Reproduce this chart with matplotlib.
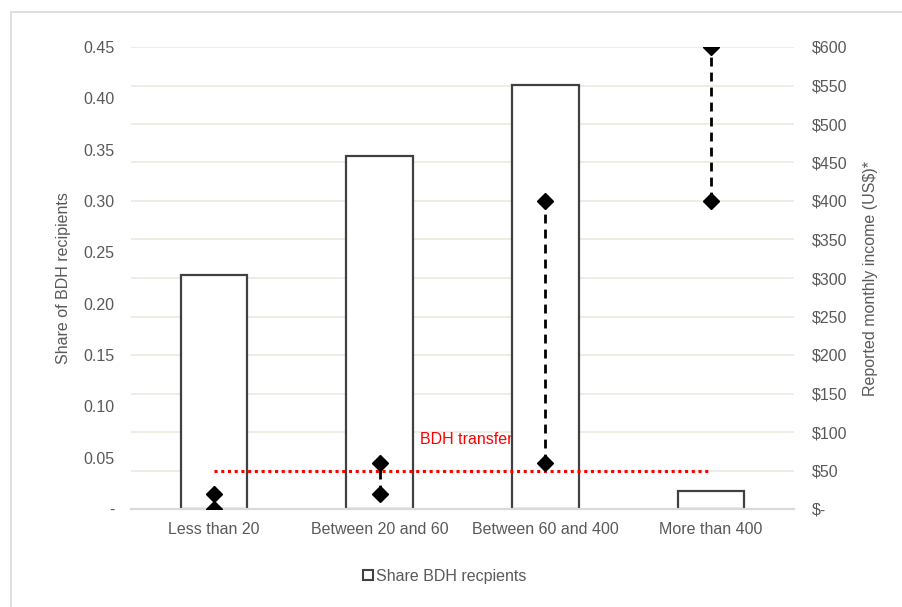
import numpy as np
import matplotlib
matplotlib.use('Agg')
import matplotlib.pyplot as plt
from matplotlib.patches import Rectangle, Patch
from matplotlib.ticker import FuncFormatter

plt.rcParams['font.family'] = ['Liberation Sans', 'DejaVu Sans']
plt.rcParams['font.size'] = 11.5

# data
categories = ['Less than 20', 'Between 20 and 60', 'Between 60 and 400', 'More than 400']
share = [0.228, 0.344, 0.413, 0.0175]          # share of BDH recipients
income_low = [0, 20, 60, 400]                   # reported monthly income, lower (US$)
income_high = [20, 60, 400, 600]                # reported monthly income, upper (US$)
bdh_transfer = 50
income_ticks = np.arange(0, 601, 50)
share_ticks = np.arange(0, 0.451, 0.05)

grey_txt = '#595959'

fig = plt.figure(figsize=(9.02, 6.07), dpi=100)
ax = fig.add_axes([131/902, 1 - 509/607, (794 - 131)/902, (509 - 47)/607])
ax2 = ax.twinx()

x = np.arange(len(categories))

# gridlines (income steps) drawn on bar axes so bars cover them
for v in income_ticks[1:]:
    ax.axhline(v / 600 * 0.45, color='#EDEAE0', lw=1.3, zorder=0)

ax.bar(x, share, width=0.4, facecolor='white', edgecolor='#404040',
       linewidth=1.6, zorder=2)
ax.set_xlim(-0.5, len(categories) - 0.5)
ax.set_ylim(0, 0.45)
ax.set_yticks(share_ticks)
ax.yaxis.set_major_formatter(FuncFormatter(lambda v, p: '-' if abs(v) < 1e-9 else '%.2f' % v))
ax.set_xticks(x)
ax.set_xticklabels(categories)
ax.set_ylabel('Share of BDH recipients', color=grey_txt, labelpad=9)

# income ranges
for i in range(len(categories)):
    ax2.plot([x[i], x[i]], [income_low[i], income_high[i]], color='black',
             lw=2, ls=(0, (3.2, 2.2)), zorder=3)
    ax2.plot([x[i], x[i]], [income_low[i], income_high[i]], ls='none',
             marker='D', markersize=8, color='black', zorder=4)

ax2.plot([x[0], x[-1]], [bdh_transfer, bdh_transfer], color='#FF0000',
         lw=2.2, ls=(0, (1, 1.2)), zorder=3)
ax2.text(1.245, 90, 'BDH transfer', color='#FF0000', fontsize=11.5,
         ha='left', va='center')

ax2.set_ylim(0, 600)
ax2.set_yticks(income_ticks)
ax2.yaxis.set_major_formatter(FuncFormatter(lambda v, p: '$-' if v == 0 else '$%d' % v))
ax2.set_ylabel('Reported monthly income (US$)*', color=grey_txt, labelpad=11)

for a in (ax, ax2):
    for s in ('top', 'left', 'right'):
        a.spines[s].set_visible(False)
    a.spines['bottom'].set_color('#D9D9D9')
    a.spines['bottom'].set_linewidth(1.5)
    a.tick_params(length=0, colors=grey_txt, pad=10)
ax.tick_params(axis='y', pad=12)
ax2.tick_params(axis='y', pad=13)
ax.tick_params(axis='x', pad=9)

# legend
handle = Patch(facecolor='white', edgecolor='#404040', linewidth=1.5)
fig.legend([handle], ['Share BDH recpients'], loc='center', bbox_to_anchor=(445/902, 1 - 576/607),
           frameon=False, handlelength=0.6, handleheight=0.6, handletextpad=0.2,
           labelcolor=grey_txt, fontsize=11.5)

# outer frame
fig.patches.append(Rectangle((11/902, -0.05), 1.2, 1 - 12/607 + 0.05,
                             transform=fig.transFigure, fill=False,
                             edgecolor='#D9D9D9', lw=1.2))

plt.savefig('out.png', dpi=100)
